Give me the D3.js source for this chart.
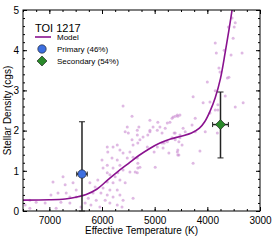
<!DOCTYPE html>
<html>
<head>
<meta charset="utf-8">
<script src="https://cdn.jsdelivr.net/npm/d3@7"></script>
<style>
  body { margin: 0; background: #fff; }
  text { font-family: "Liberation Sans", Arial, sans-serif; fill: #000; }
</style>
</head>
<body>
<div id="chart"></div>
<script>
// model curve (Teff, density)
var modelTeff = [7500, 7000, 6700, 6500, 6300, 6100, 5900, 5700, 5500, 5300, 5100, 4900, 4700, 4500, 4300, 4150, 4050, 3950, 3850, 3750, 3660, 3590, 3530];
var modelRho  = [0.27, 0.28, 0.30, 0.34, 0.41, 0.54, 0.76, 0.98, 1.18, 1.38, 1.55, 1.69, 1.79, 1.86, 1.94, 2.06, 2.22, 2.48, 2.82, 3.30, 3.95, 4.50, 5.00];

// background sample stars
var starTeff = [6740, 6550, 6835, 6680, 6970, 7250, 7370, 7080, 6780, 6610, 6490, 6230, 6130, 6080, 6170, 6260, 6110, 6210, 6320, 6040,
  6610, 6400, 6020, 6490, 6870, 6930, 6700, 7460, 7370,
  5430, 4650, 4560, 4710, 5030, 4940, 5090, 5130, 5520, 5560, 5330, 5280, 5320, 5710, 5790, 5890, 5660, 5600, 5470, 5410,
  5520, 5330, 5320, 5710, 5810, 5900, 5980, 5790, 5660, 5600, 5470, 5370, 5320, 5850, 5750, 5700, 5900, 5790, 5660, 5560,
  5980, 5850, 5710, 5900, 5790, 5660, 5600, 5940, 5850, 5710, 5620, 5410, 4990, 4840, 4860, 4760, 4670, 4610, 4800, 4860,
  4950, 5220, 5140, 5090, 5900, 6000,
  4270, 4080, 3950, 3800, 3660, 3470, 3320, 3950, 3850, 4570, 4520, 4230, 4290, 4460, 4420, 4230, 4040, 3810, 4610, 4520,
  4480, 4560, 4560, 4140, 4270,
  3850, 3830, 3680, 3550, 3340, 3510, 3470, 3490, 3600, 3530, 3780, 3760, 3620, 3590, 4000, 3850, 3800, 4670, 4610, 5600,
  5300, 5090, 4900, 4760, 4630, 4520, 4540, 4820, 4950, 5010, 4730, 4570, 4540, 5330, 5280,
  5900, 5500, 5330, 5430, 5410];
var starRho = [0.85, 0.70, 0.45, 0.45, 0.40, 0.22, 0.07, 0.20, 0.22, 0.20, 0.35, 0.70, 0.60, 0.77, 0.45, 0.32, 0.27, 0.15, 0.20, 0.10,
  0.35, 0.10, 0.45, 0.52, 0.07, 0.72, 0.65, 0.15, 0.27,
  2.36, 2.34, 2.36, 2.21, 2.09, 2.21, 1.97, 1.89, 2.09, 1.97, 1.89, 1.77, 1.69, 1.64, 1.59, 1.47, 1.52, 1.44, 1.47, 1.34,
  1.32, 1.32, 1.19, 1.27, 1.32, 1.14, 1.07, 1.07, 1.14, 1.02, 0.97, 0.97, 1.07, 0.90, 0.85, 0.95, 0.72, 0.70, 0.77, 0.70,
  0.57, 0.52, 0.52, 0.40, 0.35, 0.40, 0.27, 0.27, 0.20, 0.15, 0.10, 0.32, 1.09, 1.57, 1.69, 1.72, 1.82, 1.94, 2.06, 1.94,
  2.01, 1.84, 1.59, 2.26, 0.95, 1.27,
  2.84, 2.69, 2.71, 2.64, 2.86, 2.59, 2.69, 2.44, 2.51, 2.39, 2.39, 2.31, 2.14, 2.06, 1.97, 1.97, 1.97, 1.94, 1.77, 1.82,
  1.64, 1.52, 1.39, 1.49, 1.19,
  4.18, 3.93, 4.00, 3.88, 3.93, 4.30, 4.68, 4.58, 4.58, 4.80, 3.56, 3.46, 3.31, 3.33, 3.21, 2.99, 2.51, 2.31, 2.36, 2.61,
  2.09, 2.01, 2.09, 2.19, 1.94, 1.89, 1.72, 1.69, 1.59, 1.47, 1.44, 1.47, 1.39, 0.95, 1.09,
  1.59, 1.94, 2.01, 1.77, 1.64];

// the two components
var compNames = ["Primary (46%)", "Secondary (54%)"];
var compTeff = [6380, 3750];
var compTeffErr = [100, 150];
var compRho = [0.92, 2.15];
var compRhoLo = [0.0, 1.32];
var compRhoHi = [2.22, 2.96];
var compColors = ["#3d6fe0", "#2a8a2a"];

var xTicks = [7000, 6000, 5000, 4000, 3000];
var yTicks = [0, 1, 2, 3, 4, 5];

var width = 274, height = 240;
var margin = {top: 10, right: 14, bottom: 29, left: 23};
var w = width - margin.left - margin.right,
    h = height - margin.top - margin.bottom;

var svg = d3.select("#chart").append("svg")
  .attr("width", width)
  .attr("height", height);

var g = svg.append("g").attr("transform", "translate(" + margin.left + "," + margin.top + ")");

var x = d3.scaleLinear().domain([7500, 3000]).range([0, w]);
var y = d3.scaleLinear().domain([0, 5]).range([h, 0]);

svg.append("defs").append("clipPath").attr("id", "clip")
  .append("rect").attr("width", w).attr("height", h);

// scatter of sample stars
g.append("g").attr("clip-path", "url(#clip)")
  .selectAll("circle")
  .data(starTeff.map(function(t, i) { return {t: t, r: starRho[i]}; }))
  .enter().append("circle")
  .attr("cx", function(d) { return x(d.t); })
  .attr("cy", function(d) { return y(d.r); })
  .attr("r", 1.5)
  .attr("fill", "#c98ad1")
  .attr("opacity", 0.6);

// model line
var line = d3.line()
  .curve(d3.curveCatmullRom.alpha(0.5))
  .x(function(d) { return x(d.t); })
  .y(function(d) { return y(d.r); });

g.append("path")
  .datum(modelTeff.map(function(t, i) { return {t: t, r: modelRho[i]}; }))
  .attr("clip-path", "url(#clip)")
  .attr("d", line)
  .attr("fill", "none")
  .attr("stroke", "#8a128f")
  .attr("stroke-width", 1.6);

// axes, ticks pointing inward on all sides
var minorX = d3.range(7500, 2999, -250);
var minorY = d3.range(0, 5.01, 0.2);

function tickAxis(axis, values, size) {
  return axis.tickValues(values).tickSize(size).tickFormat("");
}

g.append("g").attr("transform", "translate(0," + h + ")")
  .call(tickAxis(d3.axisBottom(x), minorX, -2));
g.append("g").call(tickAxis(d3.axisTop(x), minorX, -2));
g.append("g").call(tickAxis(d3.axisLeft(y), minorY, -2));
g.append("g").attr("transform", "translate(" + w + ",0)")
  .call(tickAxis(d3.axisRight(y), minorY, -2));

g.append("g").attr("class", "axis-x").attr("transform", "translate(0," + h + ")")
  .call(d3.axisBottom(x).tickValues(xTicks).tickSize(-4).tickPadding(6).tickFormat(d3.format("d")));
g.append("g").call(tickAxis(d3.axisTop(x), xTicks, -4));
g.append("g").attr("class", "axis-y")
  .call(d3.axisLeft(y).tickValues(yTicks).tickSize(-4).tickPadding(4).tickFormat(d3.format("d")));
g.append("g").attr("transform", "translate(" + w + ",0)")
  .call(tickAxis(d3.axisRight(y), yTicks, -4));

g.selectAll(".domain").remove();
g.selectAll(".tick line").attr("stroke", "#000");
g.selectAll(".axis-x text, .axis-y text").style("font-size", "10px").style("font-family", "Liberation Sans, Arial, sans-serif");

g.append("rect").attr("width", w).attr("height", h)
  .attr("fill", "none").attr("stroke", "#000").attr("stroke-width", 1);

// error bars and components
var comps = compNames.map(function(n, i) {
  return {name: n, t: compTeff[i], te: compTeffErr[i], r: compRho[i], lo: compRhoLo[i], hi: compRhoHi[i], c: compColors[i]};
});

var eb = g.append("g").selectAll("g").data(comps).enter().append("g")
  .attr("stroke", "#222").attr("stroke-width", 1.5);
eb.append("line")
  .attr("x1", function(d) { return x(d.t); }).attr("x2", function(d) { return x(d.t); })
  .attr("y1", function(d) { return y(d.lo); }).attr("y2", function(d) { return y(d.hi); });
eb.append("line")
  .attr("x1", function(d) { return x(d.t + d.te); }).attr("x2", function(d) { return x(d.t - d.te); })
  .attr("y1", function(d) { return y(d.r); }).attr("y2", function(d) { return y(d.r); });
eb.append("line").attr("stroke-width", 1)
  .attr("x1", function(d) { return x(d.t) - 3; }).attr("x2", function(d) { return x(d.t) + 3; })
  .attr("y1", function(d) { return y(d.hi); }).attr("y2", function(d) { return y(d.hi); });
eb.append("line").attr("stroke-width", 1)
  .attr("x1", function(d) { return x(d.t) - 3; }).attr("x2", function(d) { return x(d.t) + 3; })
  .attr("y1", function(d) { return y(d.lo); }).attr("y2", function(d) { return y(d.lo); });
eb.append("line").attr("stroke-width", 1)
  .attr("x1", function(d) { return x(d.t + d.te); }).attr("x2", function(d) { return x(d.t + d.te); })
  .attr("y1", function(d) { return y(d.r) - 2.5; }).attr("y2", function(d) { return y(d.r) + 2.5; });
eb.append("line").attr("stroke-width", 1)
  .attr("x1", function(d) { return x(d.t - d.te); }).attr("x2", function(d) { return x(d.t - d.te); })
  .attr("y1", function(d) { return y(d.r) - 2.5; }).attr("y2", function(d) { return y(d.r) + 2.5; });

var circ = d3.symbol().type(d3.symbolCircle).size(56);
var diam = d3.symbol().type(d3.symbolSquare).size(50);
g.append("g").selectAll("path").data(comps).enter().append("path")
  .attr("d", function(d, i) { return i === 0 ? circ() : diam(); })
  .attr("transform", function(d, i) {
    return "translate(" + x(d.t) + "," + y(d.r) + ")" + (i === 1 ? " rotate(45)" : "");
  })
  .attr("fill", function(d) { return d.c; })
  .attr("stroke", "#1a1a1a").attr("stroke-width", 0.6);

// legend
var lg = g.append("g").attr("transform", "translate(12,0)");
lg.append("text").attr("x", 0).attr("y", 22).style("font-size", "11px").text("TOI 1217");
lg.append("line").attr("x1", 0).attr("x2", 16).attr("y1", 27).attr("y2", 27)
  .attr("stroke", "#8a128f").attr("stroke-width", 1.6);
lg.append("text").attr("x", 22).attr("y", 30).style("font-size", "8px").text("Model");
lg.selectAll(".leg").data(comps).enter().append("path")
  .attr("d", function(d, i) { return i === 0 ? circ() : diam(); })
  .attr("transform", function(d, i) {
    return "translate(7," + (39 + i * 12) + ")" + (i === 1 ? " rotate(45)" : "");
  })
  .attr("fill", function(d) { return d.c; })
  .attr("stroke", "#1a1a1a").attr("stroke-width", 0.6);
lg.selectAll(".legt").data(comps).enter().append("text")
  .attr("x", 22).attr("y", function(d, i) { return 42 + i * 12; })
  .style("font-size", "8px").text(function(d) { return d.name; });

// axis titles
svg.append("text")
  .attr("x", margin.left + w / 2).attr("y", 234)
  .attr("text-anchor", "middle").style("font-size", "10px")
  .text("Effective Temperature (K)");
svg.append("text")
  .attr("transform", "rotate(-90)")
  .attr("x", -(margin.top + h / 2)).attr("y", 11)
  .attr("text-anchor", "middle").style("font-size", "10px")
  .text("Stellar Density (cgs)");
</script>
</body>
</html>
